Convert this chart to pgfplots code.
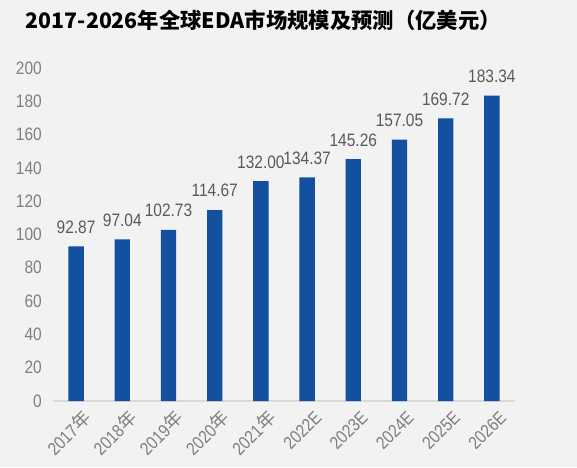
\documentclass[border=0pt]{standalone}
\usepackage{fontspec}
\setmainfont{Liberation Sans}[FakeStretch=0.86]
\newfontfamily\cjk{Noto Sans CJK SC}
\usepackage{pgfplots}
\pgfplotsset{compat=1.18}

\definecolor{bgc}{HTML}{F2F2F2}
\definecolor{barc}{HTML}{1350A0}
\definecolor{axc}{HTML}{D9D9D9}
\definecolor{tickc}{HTML}{7F7F7F}
\definecolor{labc}{HTML}{595959}

\begin{document}
\begin{tikzpicture}
  \fill[bgc] (0,0) rectangle (432.75pt,350.25pt);
  \node[font=\cjk\bfseries\fontsize{16pt}{18pt}\selectfont, text=black]
    at (197.5pt,335pt) {2017-2026年全球EDA市场规模及预测（亿美元）};
  \begin{axis}[
    at={(39.75pt,49.5pt)}, anchor=south west,
    scale only axis,
    width=346.5pt, height=249.75pt,
    ybar, bar width=11.5pt,
    xmin=-0.5, xmax=9.5,
    ymin=0, ymax=200,
    xtick=data,
    xticklabels={2017{\cjk 年},2018{\cjk 年},2019{\cjk 年},2020{\cjk 年},2021{\cjk 年},
      2022E,2023E,2024E,2025E,2026E},
    ytick={0,20,...,200},
    axis x line*=bottom,
    axis y line*=left,
    x axis line style={axc, line width=1.2pt, -},
    y axis line style={draw=none},
    major tick length=0pt,
    /pgf/number format/assume math mode=true,
    tick label style={text=tickc, font=\fontsize{13.5pt}{15pt}\selectfont},
    yticklabel style={inner sep=0pt, xshift=-8.25pt},
    xticklabel style={rotate=45, anchor=east, inner sep=0pt, yshift=-13pt, xshift=-1pt},
    nodes near coords={\pgfmathprintnumber[fixed,fixed zerofill,precision=2,assume math mode=true]{\pgfplotspointmeta}},
    every node near coord/.append style={text=labc, font=\fontsize{13.5pt}{15pt}\selectfont,
      anchor=south, inner sep=0pt, yshift=9.5pt},
    clip=false,
  ]
    \addplot[fill=barc, draw=none] coordinates {
      (0,92.87) (1,97.04) (2,102.73) (3,114.67) (4,132.00)
      (5,134.37) (6,145.26) (7,157.05) (8,169.72) (9,183.34)};
  \end{axis}
  \pgfresetboundingbox
  \path (0,0) rectangle (432.75pt,350.25pt);
\end{tikzpicture}
\end{document}
